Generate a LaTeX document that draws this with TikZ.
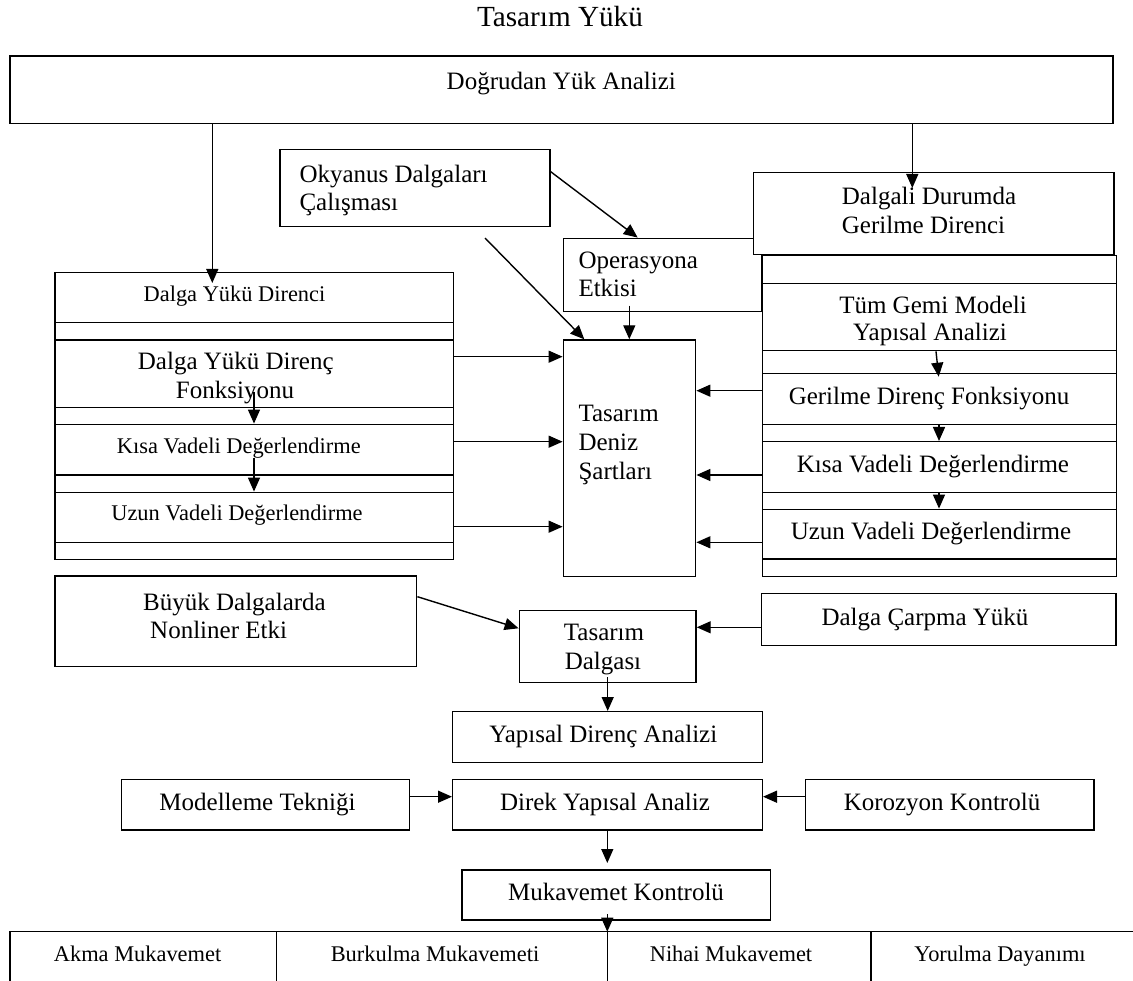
\documentclass[tikz,border=0pt]{standalone}
\usepackage{fontspec}
\setmainfont{Liberation Serif}
\usetikzlibrary{arrows.meta,fit,calc}
\begin{document}
\begin{tikzpicture}[x=1pt,y=-1pt,
  box/.style={draw, line width=1.4pt, fill=white, inner sep=0pt},
  arr/.style={line width=1.4pt, -{Triangle[length=14pt,width=12pt]}},
  ln/.style={line width=1.4pt},
  tA/.style={font=\fontsize{25}{28}\selectfont, inner sep=0pt, anchor=base},
  tB/.style={font=\fontsize{22.4}{26}\selectfont, inner sep=0pt, anchor=base},
  tT/.style={font=\fontsize{29.2}{32}\selectfont, inner sep=0pt, anchor=base}]
\useasboundingbox[fill=white] (0,0) rectangle (1133,981);

% title and top box
\node[tT] (title) at (560,26.7) {Tasarım Yükü};
\node[box, fit={(10,56) (1113,123.3)}] (dya) {};
\node[tA] (tdya) at (561.3,89.3) {Doğrudan Yük Analizi};

% Okyanus
\node[box, fit={(280,149.3) (550,226.7)}] (oky) {};
\node[tA, anchor=base west] (toky1) at (299.3,182.3) {Okyanus Dalgaları};
\node[tA, anchor=base west] (toky2) at (299.3,211) {Çalışması};

% Operasyona
\node[box, fit={(563.3,238.3) (762,311.7)}] (ops) {};
\node[tA, anchor=base west] (tops1) at (578.3,268.3) {Operasyona};
\node[tA, anchor=base west] (tops2) at (578.3,296.7) {Etkisi};

% Dalgali Durumda
\node[box, fit={(753.3,172.7) (1114,254.3)}] (dgd) {};
\node[tA, anchor=base west] (tdgd1) at (841.7,205) {Dalgali Durumda};
\node[tA, anchor=base west] (tdgd2) at (841.7,233.3) {Gerilme Direnci};

% right column
\node[box, fit={(762.3,255.7) (1116.7,576.7)}] (rcol) {};
\node[box, fit={(762.3,283.3) (1116.7,350.7)}] (rtg) {};
\node[box, fit={(762.3,373.3) (1116.7,424.3)}] (rgd) {};
\node[box, fit={(762.3,441.7) (1116.7,492.3)}] (rkv) {};
\node[box, fit={(762.3,509.3) (1116.7,559)}] (ruv) {};
\node[tA] (trtg1) at (933,314) {Tüm Gemi Modeli};
\node[tA] (trtg2) at (930,341) {Yapısal Analizi};
\node[tA] (trgd) at (929,405) {Gerilme Direnç Fonksiyonu};
\node[tA] (trkv) at (933,472.7) {Kısa Vadeli Değerlendirme};
\node[tA] (truv) at (931,539.3) {Uzun Vadeli Değerlendirme};

% left column
\node[box, fit={(55,272.7) (453.3,559.3)}] (lcol) {};
\node[box, fit={(55,272.7) (453.3,322.7)}] (ldy) {};
\node[box, fit={(55,340) (453.3,407.3)}] (ldf) {};
\node[box, fit={(55,424.3) (453.3,475)}] (lkv) {};
\node[box, fit={(55,492.3) (453.3,542.7)}] (luv) {};
\node[tB] (tldy) at (234.5,301.7) {Dalga Yükü Direnci};
\node[tA] (tldf1) at (235.8,370) {Dalga Yükü Direnç};
\node[tA] (tldf2) at (235,398.3) {Fonksiyonu};
\node[tB] (tlkv) at (238.8,453.3) {Kısa Vadeli Değerlendirme};
\node[tB] (tluv) at (237,520) {Uzun Vadeli Değerlendirme};

% Tasarim Deniz Sartlari
\node[box, fit={(563.3,340) (695.7,576.7)}] (tds) {};
\node[tA, anchor=base west] (ttds1) at (578.3,421.7) {Tasarım};
\node[tA, anchor=base west] (ttds2) at (578.3,450.7) {Deniz};
\node[tA, anchor=base west] (ttds3) at (578.3,479.3) {Şartları};

% lower boxes
\node[box, fit={(55,576) (416.7,666.7)}] (bdk) {};
\node[tA, anchor=base west] (tbdk1) at (143,610) {Büyük Dalgalarda};
\node[tA, anchor=base west] (tbdk2) at (150,638.3) {Nonliner Etki};

\node[box, fit={(519.3,610.7) (696,682.7)}] (tdl) {};
\node[tA] (ttdl1) at (604,640.7) {Tasarım};
\node[tA] (ttdl2) at (603,669.3) {Dalgası};

\node[box, fit={(761.7,593.3) (1116,645.7)}] (dcy) {};
\node[tA] (tdcy) at (925,625) {Dalga Çarpma Yükü};

\node[box, fit={(452.7,711.7) (762.3,762.7)}] (yda) {};
\node[tA] (tyda) at (603.3,742.3) {Yapısal Direnç Analizi};

\node[box, fit={(121.7,779.3) (409.3,830)}] (mdt) {};
\node[tA] (tmdt) at (257.5,810) {Modelleme Tekniği};
\node[box, fit={(452.7,779.3) (762.3,830)}] (dra) {};
\node[tA] (tdra) at (605,810) {Direk Yapısal Analiz};
\node[box, fit={(805.7,779.3) (1094,830)}] (krz) {};
\node[tA] (tkrz) at (942,810) {Korozyon Kontrolü};

\node[box, fit={(461.8,870) (770.2,920)}] (muk) {};
\node[tA] (tmuk) at (616,900) {Mukavemet Kontrolü};

% bottom table
\coordinate (tbl) at (10,931.7);
\coordinate (tbr) at (1133,931.7);
\coordinate (tblb) at (10,981);
\coordinate (d1) at (276.4,931.7);
\coordinate (d2) at (607.3,931.7);
\coordinate (d3) at (871,931.7);
\draw[ln] (tbr) -- (tbl) -- (tblb);
\draw[ln] (d1) -- (d1 |- tblb);
\draw[ln] (d2) -- (d2 |- tblb);
\draw[ln] (d3) -- (d3 |- tblb);
\node[tB] (tc1) at (137.6,961.7) {Akma Mukavemet};
\node[tB] (tc2) at (435,961.7) {Burkulma Mukavemeti};
\node[tB] (tc3) at (731,961.7) {Nihai Mukavemet};
\node[tB] (tc4) at (1000,961.7) {Yorulma Dayanımı};

% connector helper coordinates
\coordinate (a1) at (212.3,283);
\coordinate (a2) at (912.3,188);
\coordinate (a3s) at (0,171.7);
\coordinate (a3e) at (637.7,0);
\coordinate (a4) at (485,238);
\coordinate (a4e) at (584.3,0);
\coordinate (a5) at (629.3,305.7);
\coordinate (l1) at (0,356.7);
\coordinate (l2) at (0,441.7);
\coordinate (l3) at (0,526.7);
\coordinate (r1) at (0,390.7);
\coordinate (r2) at (0,475);
\coordinate (r3) at (0,542.3);
\coordinate (b1) at (254,391.7);
\coordinate (b2) at (254,458.3);
\coordinate (c1s) at (936,0);
\coordinate (c1e) at (938.7,376.7);
\coordinate (c2) at (939,0);
\coordinate (e1s) at (0,596.7);
\coordinate (e1e) at (0,628.3);
\coordinate (e2) at (0,627.3);
\coordinate (e3) at (607.7,677);
\coordinate (e4) at (0,796.7);
\coordinate (e5) at (607.3,863);
\coordinate (e6) at (607.3,914);

% connectors
\draw[arr] (dya.south -| a1) -- (a1);
\draw[arr] (dya.south -| a2) -- (a2);
\draw[arr] (oky.east |- a3s) -- (ops.north -| a3e);
\draw[arr] (a4) -- (tds.north -| a4e);
\draw[arr] (a5) -- (tds.north -| a5);
\draw[arr] (lcol.east |- l1) -- (tds.west |- l1);
\draw[arr] (lcol.east |- l2) -- (tds.west |- l2);
\draw[arr] (lcol.east |- l3) -- (tds.west |- l3);
\draw[arr] (rcol.west |- r1) -- (tds.east |- r1);
\draw[arr] (rcol.west |- r2) -- (tds.east |- r2);
\draw[arr] (rcol.west |- r3) -- (tds.east |- r3);
\draw[arr] (b1) -- (lkv.north -| b1);
\draw[arr] (b2) -- (luv.north -| b2);
\draw[arr] (rtg.south -| c1s) -- (c1e);
\draw[arr] (rgd.south -| c2) -- (rkv.north -| c2);
\draw[arr] (rkv.south -| c2) -- (ruv.north -| c2);
\draw[arr] (bdk.east |- e1s) -- (tdl.west |- e1e);
\draw[arr] (dcy.west |- e2) -- (tdl.east |- e2);
\draw[arr] (e3) -- (yda.north -| e3);
\draw[arr] (mdt.east |- e4) -- (dra.west |- e4);
\draw[arr] (krz.west |- e4) -- (dra.east |- e4);
\draw[arr] (dra.south -| e5) -- (e5);
\draw[arr] (e6) -- (d2);
\end{tikzpicture}
\end{document}
